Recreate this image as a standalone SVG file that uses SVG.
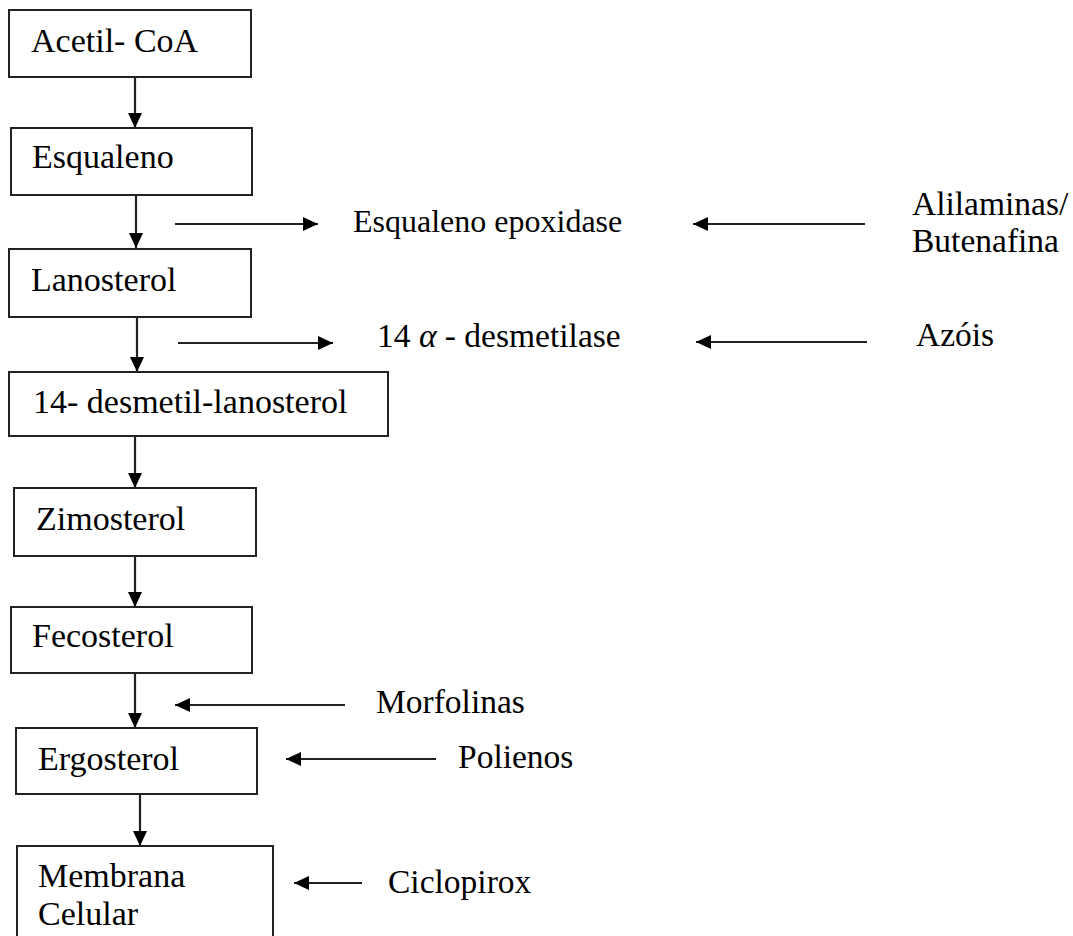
<svg xmlns="http://www.w3.org/2000/svg" width="1073" height="936" viewBox="0 0 1073 936">
<style>
.box{fill:#fff;stroke:#222;stroke-width:2}
.t{font-family:'Liberation Serif','DejaVu Serif',serif;font-size:34px;fill:#000}
.r{font-family:'Liberation Serif','DejaVu Serif',serif;font-size:33.5px;fill:#000}
.c{stroke:#222;stroke-width:2.2;fill:none;marker-end:url(#ah)}
</style>
<defs>
<marker id="ah" markerWidth="15" markerHeight="14" refX="15" refY="7" orient="auto" markerUnits="userSpaceOnUse">
<path d="M0,0 L15,7 L0,14 Z" fill="#000"/>
</marker>
</defs>
<rect width="1073" height="936" fill="#fff"/>
<g id="connectors">
<line class="c" x1="135" y1="77" x2="135" y2="128"/>
<line class="c" x1="136" y1="195" x2="136" y2="248"/>
<line class="c" x1="137" y1="317" x2="137" y2="372"/>
<line class="c" x1="135" y1="436" x2="135" y2="488"/>
<line class="c" x1="135" y1="556" x2="135" y2="607"/>
<line class="c" x1="135" y1="673" x2="135" y2="728"/>
<line class="c" x1="140" y1="794" x2="140" y2="846"/>
<line class="c" x1="175" y1="224" x2="318" y2="224"/>
<line class="c" x1="865" y1="224" x2="693" y2="224"/>
<line class="c" x1="178" y1="343" x2="333" y2="343"/>
<line class="c" x1="867" y1="342" x2="696" y2="342"/>
<line class="c" x1="345" y1="705" x2="175" y2="705"/>
<line class="c" x1="436" y1="759" x2="286" y2="759"/>
<line class="c" x1="362" y1="883" x2="294" y2="883"/>
</g>
<g id="acetil"><rect class="box" x="9" y="10" width="242" height="67"/><text class="t" x="31" y="52">Acetil- CoA</text></g>
<g id="esqualeno"><rect class="box" x="11" y="128" width="241" height="67"/><text class="t" x="32" y="168">Esqualeno</text></g>
<g id="lanosterol"><rect class="box" x="9" y="249" width="242" height="68"/><text class="t" x="31" y="291">Lanosterol</text></g>
<g id="desmetil"><rect class="box" x="9" y="372" width="379" height="64"/><text class="t" x="33" y="413">14- desmetil-lanosterol</text></g>
<g id="zimosterol"><rect class="box" x="14" y="488" width="242" height="68"/><text class="t" x="36" y="530">Zimosterol</text></g>
<g id="fecosterol"><rect class="box" x="11" y="607" width="241" height="66"/><text class="t" x="32" y="647">Fecosterol</text></g>
<g id="ergosterol"><rect class="box" x="16" y="728" width="241" height="66"/><text class="t" x="38" y="770">Ergosterol</text></g>
<g id="membrana"><rect class="box" x="17" y="846" width="256" height="110"/><text class="t" x="38" y="887">Membrana</text><text class="t" x="38" y="925">Celular</text></g>
<g id="epoxidase"><text class="r" style="font-size:32px" x="353" y="232">Esqualeno epoxidase</text></g>
<g id="alilaminas"><text class="r" x="912" y="215">Alilaminas/</text><text class="r" x="912" y="252">Butenafina</text></g>
<g id="desmetilase"><text class="r" x="377" y="347">14 <tspan font-style="italic">α</tspan> - desmetilase</text></g>
<g id="azois"><text class="r" x="916" y="346">Azóis</text></g>
<g id="morfolinas"><text class="r" x="376" y="713">Morfolinas</text></g>
<g id="polienos"><text class="r" x="458" y="768">Polienos</text></g>
<g id="ciclopirox"><text class="r" x="388" y="893">Ciclopirox</text></g>
</svg>
